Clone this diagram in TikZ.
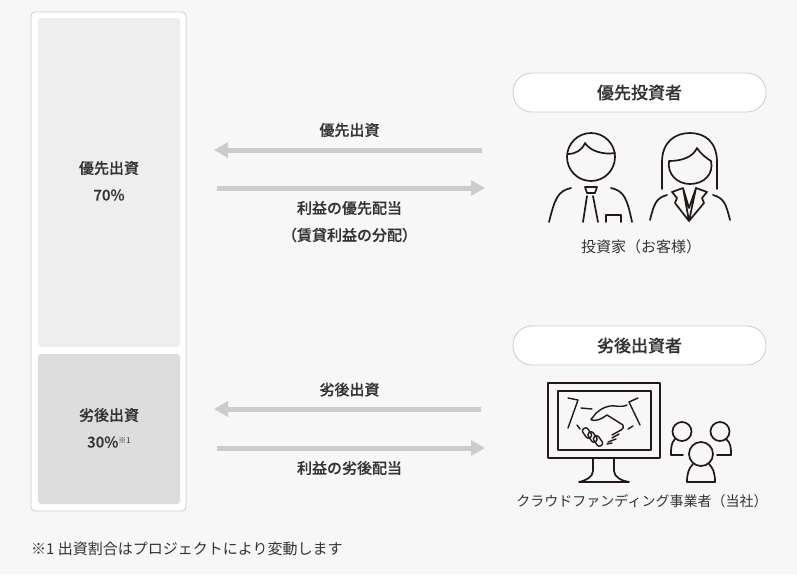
\documentclass[tikz,border=0pt]{standalone}
\usepackage{fontspec}
\setmainfont[BoldFont={Noto Sans CJK JP Medium}, BoldFeatures={FakeBold=0.25}]{Noto Sans CJK JP}
\usetikzlibrary{positioning, arrows.meta}

\definecolor{pagebg}{HTML}{F7F7F7}
\definecolor{framegray}{HTML}{CCCCCC}
\definecolor{prioblock}{HTML}{EEEEEE}
\definecolor{subblock}{HTML}{DDDDDD}
\definecolor{flowgray}{HTML}{CCCCCC}
\definecolor{inkdark}{HTML}{231815}
\definecolor{textdark}{HTML}{333333}

\tikzset{
	block/.style={rounded corners=3pt, minimum width=142pt, text=textdark, font=\fontsize{15}{17}\selectfont\bfseries},
	pill/.style={draw=framegray, fill=white, rounded corners=19pt, line width=0.8pt, minimum width=253pt, minimum height=39pt, text=textdark, font=\fontsize{17}{19}\selectfont\bfseries},
	flow/.style={line width=5pt, flowgray, -{Triangle[width=15pt,length=14pt]}},
	flowlabel/.style={text=textdark, font=\fontsize{15}{17}\selectfont\bfseries},
	caption/.style={text=textdark, font=\fontsize{15}{17}\selectfont},
	icon/.style={inkdark, line width=1.7pt, line cap=round, line join=round},
	iconthin/.style={inkdark, line width=1.4pt, line cap=round, line join=round}
}

\begin{document}
\begin{tikzpicture}[x=1pt,y=-1pt,node distance=27pt,on grid]

\useasboundingbox[fill=pagebg] (0,0) rectangle (797,574);

% Stack of the two shares
	\node (stack)		[draw=framegray, fill=white, rounded corners=4pt, line width=0.8pt, minimum width=155pt, minimum height=499pt] at (108.5,261.5) {};
	\node (prio_box)	[block, fill=prioblock, minimum height=329pt] at (109,182.5) {};
	\node (sub_box)		[block, fill=subblock, minimum height=150pt] at (109,429) {};

	\node (prio_name)	[block] at (109,168) {優先出資};
	\node (prio_rate)	[block, below=of prio_name] {70\%};
	\node (sub_name)	[block] at (109,415) {劣後出資};
	\node (sub_rate)	[block, below=of sub_name] {30\%\raisebox{4pt}{\fontsize{8}{8}\selectfont\mdseries ※1}};

% Investor headers
	\node (prio_pill)	[pill] at (639.5,92.5) {優先投資者};
	\node (sub_pill)	[pill] at (639.5,345.5) {劣後出資者};

% Ends of the flows
	\coordinate (in_a)	at (482,150);
	\coordinate (in_b)	at (214,150);
	\coordinate (out_a)	at (217,188);
	\coordinate (out_b)	at (485,188);
	\coordinate (in_c)	at (481,409);
	\coordinate (in_d)	at (214,409);
	\coordinate (out_c)	at (217,448);
	\coordinate (out_d)	at (485,448);

	\draw[flow] (in_a) -- (in_b);
	\draw[flow] (out_a) -- (out_b);
	\draw[flow] (in_c) -- (in_d);
	\draw[flow] (out_c) -- (out_d);

% Flow labels
	\node (in_top)		[flowlabel] at (349.5,130) {優先出資};
	\node (out_top)		[flowlabel] at (349.5,208) {利益の優先配当};
	\node (out_top_b)	[flowlabel, below=of out_top] {（賃貸利益の分配）};
	\node (in_low)		[flowlabel] at (349.5,389.5) {劣後出資};
	\node (out_low)		[flowlabel] at (349.5,468) {利益の劣後配当};

% Man
	\draw[icon] (591,157) circle (24);
	\draw[icon] (567.5,154) .. controls (576,154) and (582,150) .. (585,143) .. controls (590,151) and (603,155) .. (615,153);
	\draw[icon] (571,188) .. controls (558,191) and (555,198) .. (549,222);
	\draw[icon] (611,188) .. controls (624,191) and (627,198) .. (632,222);
	\draw[icon] (585,187) -- (597,187) -- (595,193) -- (587,193) -- cycle;
	\draw[icon] (587,196) -- (583,222);
	\draw[icon] (593,196) -- (598,222);
	\draw[icon] (606,222) -- (606,215) -- (621,215) -- (621,222);

% Woman
	\draw[icon] (662,189) .. controls (662,178) and (662,172) .. (662,162) .. controls (662,142) and (675,133) .. (690,133) .. controls (705,133) and (717,142) .. (717,162) .. controls (717,172) and (717,178) .. (717,189);
	\draw[icon] (669,161) .. controls (682,161) and (693,157) .. (697,148) .. controls (700,153) and (706,158) .. (711,161) .. controls (714,174) and (704,184) .. (690,184) .. controls (677,184) and (667,174) .. (669,161) -- cycle;
	\draw[icon] (667,195) .. controls (656,198) and (654,204) .. (650,220);
	\draw[icon] (713,195) .. controls (724,198) and (726,204) .. (730,220);
	\draw[icon] (683,188) -- (672,192) -- (677,198) -- (675,203) -- (689,221) -- (683,188) -- (689,208) -- (696,188) -- (707,192) -- (702,198) -- (704,203) -- (689,221) -- (696,188);

% Monitor
	\draw[icon, line width=2pt] (548,383) rectangle (660,458);
	\draw[icon, line width=2pt] (558,391) rectangle (651,450);
	\draw[icon] (593,458) -- (593,471) .. controls (593,477) and (585,481) .. (579,482) -- (629,482) .. controls (622,481) and (614,477) .. (614,471) -- (614,458);

% Handshake
	\draw[iconthin] (568,398) -- (578,400) -- (568,428);
	\draw[iconthin] (638,398) -- (629,402) -- (640,425);
	\draw[iconthin] (581,408) -- (592,409);
	\draw[iconthin] (577,425) -- (580,429);
	\draw[iconthin] (628,429) -- (633,426);
	\draw[iconthin] (627,405) .. controls (620,408) and (614,405) .. (610,406) .. controls (604,407) and (598,410) .. (593,417) .. controls (590,420) and (591,420) .. (592,420) .. controls (596,421) and (600,420) .. (607,415) -- (623,425) .. controls (624,427) and (623,429) .. (621,430);
	\draw[iconthin] (621,430) -- (612,435);
	\draw[iconthin] (619,434) -- (612,438);
	\draw[iconthin] (616,439) -- (608,442);
	\draw[iconthin] (612,443) -- (607,444);
	\draw[iconthin, rotate around={-55:(587,433)}, rounded corners=2.5pt] (581.5,430) rectangle (592.5,436);
	\draw[iconthin, rotate around={-55:(592.5,437)}, rounded corners=2.5pt] (587,434) rectangle (598,440);
	\draw[iconthin, rotate around={-55:(598,441)}, rounded corners=2.5pt] (592.5,438) rectangle (603.5,444);

% Group of people
	\draw[icon] (682,431.5) circle (9.5);
	\draw[icon] (675,439) .. controls (671,443) and (671,448) .. (671,455) -- (683,455);
	\draw[icon] (720,431.5) circle (9.5);
	\draw[icon] (726,439) .. controls (731,443) and (731,448) .. (731,455) -- (717,455);
	\draw[icon] (701,454) circle (12);
	\draw[icon] (693,464) .. controls (689,468) and (687,473) .. (687,482) -- (715,482) .. controls (715,473) and (713,468) .. (709,464);

% Captions
	\node (man_cap)		[caption] at (641,246.5) {投資家（お客様）};
	\node (firm_cap)	[caption, font=\fontsize{14}{16}\selectfont] at (642,501) {クラウドファンディング事業者（当社）};
	\node (note)		[caption, anchor=west, inner sep=0pt] at (31,549) {※1 出資割合はプロジェクトにより変動します};

\end{tikzpicture}
\end{document}
